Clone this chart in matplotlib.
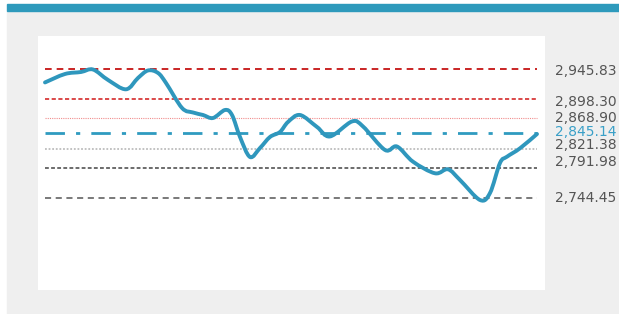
import numpy as np
import matplotlib
matplotlib.use("Agg")
import matplotlib.pyplot as plt
from matplotlib.path import Path
from matplotlib.patches import PathPatch, Rectangle

# price series (x = session offset, y = close)
t = [0, 20, 36, 48, 63, 81, 93, 103, 113, 121, 137, 148, 158, 168, 180, 187,
     195, 205, 215, 225, 235, 243, 255, 272, 285, 307, 318, 340, 352, 368,
     390, 403, 415, 435, 445, 455, 462, 475, 492]
close = [2924.8, 2938.0, 2941.1, 2945.0, 2928.7, 2914.1, 2931.8, 2943.5, 2939.6,
         2924.0, 2885.0, 2877.9, 2874.0, 2869.3, 2881.8, 2874.0, 2839.7, 2808.4,
         2822.5, 2839.7, 2847.5, 2863.1, 2874.0, 2855.3, 2840.5, 2863.9, 2856.1,
         2819.4, 2824.8, 2801.1, 2783.0, 2789.2, 2772.5, 2741.3, 2752.2, 2799.1,
         2808.9, 2822.0, 2844.3]

# reference levels
levels = [2945.83, 2898.30, 2868.90, 2845.14, 2821.38, 2791.98, 2744.45]
level_colors = ["#c00000", "#d42a2a", "#f08c8c", "#2f9bc0", "#bdbdbd", "#444444", "#555555"]
level_dash = [(0, (4, 3)), (0, (2.5, 1.5)), (0, (1, 1)), (0, (7, 4, 1.5, 4)),
              (0, (1, 1)), (0, (2.5, 1.5)), (0, (4, 3))]
level_lw = [1.2, 1.2, 0.8, 2.0, 1.3, 1.1, 1.1]
label_dy = [-1.2, -1.7, 0, 1.3, 2.6, 4.2, -0.2]
label_colors = ["#555555"] * 3 + ["#3aa0c8"] + ["#555555"] * 3

W, H = 619, 314
fig = plt.figure(figsize=(W / 100, H / 100), dpi=100, facecolor="white")
fig.patches.append(Rectangle((7 / W, 0), 1, 1 - 11 / H, transform=fig.transFigure,
                             color="#efefef", zorder=-10))
fig.patches.append(Rectangle((7 / W, 1 - 11 / H), 1, 7 / H, transform=fig.transFigure,
                             color="#2e9abc", zorder=-10))

ax = fig.add_axes([38 / W, 1 - 290 / H, 507 / W, 254 / H])
ax.set_facecolor("white")
ax.set_xlim(-7, 500)
ax.set_ylim(2600.8, 2997.3)
for s in ax.spines.values():
    s.set_visible(False)
ax.set_xticks([])
ax.set_yticks([])

for lv, c, ls, lw in zip(levels, level_colors, level_dash, level_lw):
    ax.hlines(lv, t[0], t[-1], color=c, linestyle=ls, linewidth=lw, zorder=2)

# smooth line through points (Catmull-Rom -> bezier)
pts = np.column_stack([t, close])
n = len(pts)
verts = [pts[0]]
codes = [Path.MOVETO]
for i in range(n - 1):
    p0 = pts[i - 1] if i > 0 else pts[i]
    p1 = pts[i]
    p2 = pts[i + 1]
    p3 = pts[i + 2] if i + 2 < n else pts[i + 1]
    verts += [p1 + (p2 - p0) / 6, p2 - (p3 - p1) / 6, p2]
    codes += [Path.CURVE4] * 3
ax.add_patch(PathPatch(Path(verts, codes), fill=False, edgecolor="#2f97bd",
                       linewidth=2.8, capstyle="round", joinstyle="round", zorder=3))

for lv, dy, c in zip(levels, label_dy, label_colors):
    ax.annotate(f"{lv:,.2f}", xy=(1, lv), xycoords=ax.get_yaxis_transform(),
                xytext=(7.5, dy), textcoords="offset points", va="center", ha="left",
                fontsize=10, color=c, annotation_clip=False)

fig.savefig("out.png", dpi=100, facecolor=fig.get_facecolor())
